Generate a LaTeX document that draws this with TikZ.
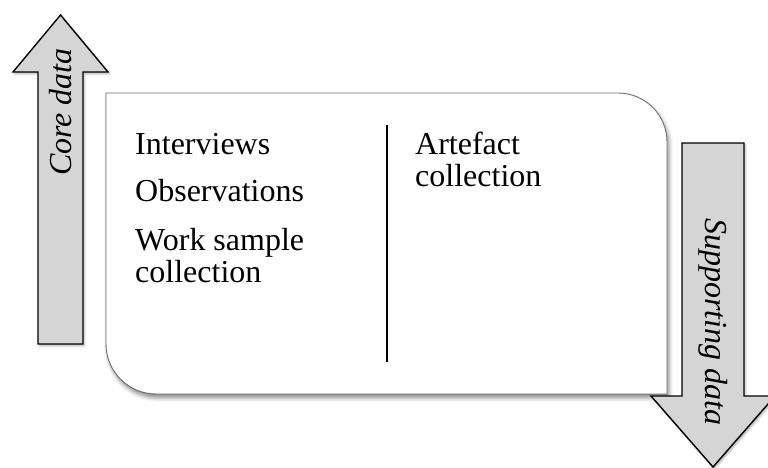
\documentclass[tikz,border=0pt]{standalone}
\usepackage{fontspec}
\setmainfont{Liberation Serif}
\usetikzlibrary{shadows.blur}
\begin{document}
\begin{tikzpicture}[x=1pt,y=1pt,
  bigarrow/.style={draw=black,line width=1.4pt,fill=gray!33,line join=miter,
    blur shadow={shadow xshift=1.5pt,shadow yshift=-2pt,shadow blur radius=2pt,shadow opacity=30}},
  panel/.style={draw=gray!85!black,line width=0.9pt,fill=white,
    blur shadow={shadow xshift=2pt,shadow yshift=-4pt,shadow blur radius=4pt,shadow opacity=45}},
  lbl/.style={font=\fontsize{32}{32}\selectfont,inner sep=0pt,anchor=base west,align=left},
  arrowlbl/.style={font=\fontsize{32}{32}\selectfont\itshape,inner sep=0pt}]
\useasboundingbox (0,0) rectangle (768,468);
\clip (0,0) rectangle (768,468);
% left arrow (core data)
\path[bigarrow] (38,124) -- (38,396) -- (13,396) -- (60.5,453) -- (108,396) -- (83,396) -- (83,124) -- cycle;
\node[arrowlbl,rotate=90] (core) at (61,356) {Core data};
% panel
\path[panel] (106,375) -- (618,375) arc[start angle=90,end angle=0,radius=49] -- (667,74) -- (156,74) arc[start angle=270,end angle=180,radius=50] -- cycle;
% right arrow (supporting data)
\path[bigarrow] (682,325) -- (744,325) -- (744,72) -- (775,72) -- (713,1) -- (651,72) -- (682,72) -- cycle;
\node[arrowlbl,rotate=-90] (supp) at (713,146) {Supporting data};
% texts
\node[lbl] (int) at (135,313) {Interviews};
\node[lbl] (obs) at (135,266) {Observations};
\node[lbl] (work) at (135,185) {Work sample\\collection};
\node[lbl] (art) at (415,281) {Artefact\\collection};
% divider
\coordinate (dtop) at (387,343);
\coordinate (dbot) at (387,106);
\draw[line width=1.3pt] (dtop) -- (dbot);
\end{tikzpicture}
\end{document}
